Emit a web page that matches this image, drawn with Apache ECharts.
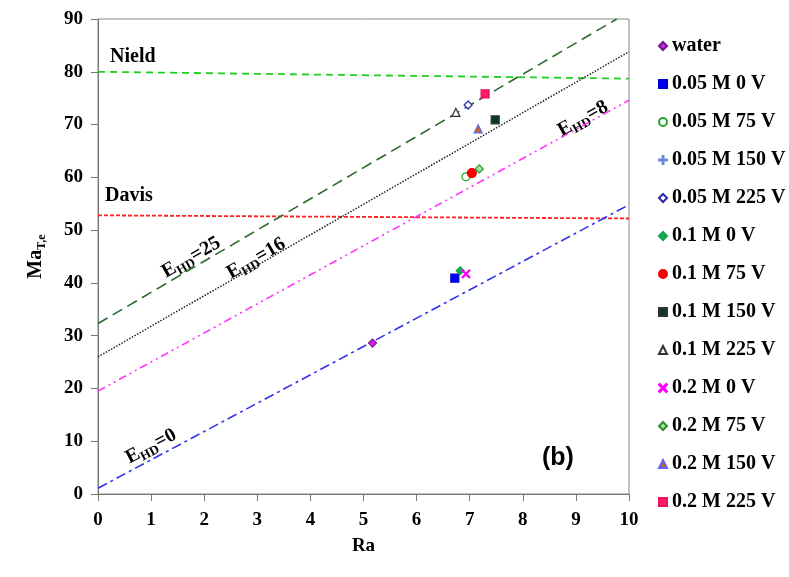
<!DOCTYPE html>
<html>
<head>
<meta charset="utf-8">
<script src="https://cdn.jsdelivr.net/npm/echarts@6/dist/echarts.min.js"></script>
<style>
  html, body { margin: 0; padding: 0; background: #fff; }
  #chart { width: 789px; height: 577px; }
</style>
</head>
<body>
<div id="chart"></div>
<script>
// x-axis ticks / y-axis ticks
var xTicks = [0, 1, 2, 3, 4, 5, 6, 7, 8, 9, 10]
var yTicks = [0, 10, 20, 30, 40, 50, 60, 70, 80, 90]

// theory lines (Ra, Ma)
var nieldLine = [[0, 80], [10, 78.7]]
var davisLine = [[0, 52.8], [10, 52.2]]
var ehd25Line = [[0, 32.3], [9.77, 90]]
var ehd16Line = [[0, 26], [10, 83.8]]
var ehd8Line = [[0, 19.5], [10, 74.6]]
var ehd0Line = [[0, 1.1], [10, 54.8]]

// measured points
var water = [[5.17, 28.6]]
var m005v0 = [[6.72, 40.9]]
var m005v75 = [[6.93, 60.1]]
var m005v150 = []
var m005v225 = [[6.97, 73.7]]
var m01v0 = [[6.82, 42.3]]
var m01v75 = [[7.04, 60.8]]
var m01v150 = [[7.48, 70.9]]
var m01v225 = [[6.74, 72.3]]
var m02v0 = [[6.93, 41.7]]
var m02v75 = [[7.18, 61.6]]
var m02v150 = [[7.16, 69.2]]
var m02v225 = [[7.29, 75.8]]

var plusPath = 'path://M0,4.4 L10,4.4 L10,5.6 L0,5.6 Z M4.4,0 L5.6,0 L5.6,10 L4.4,10 Z'
var crossPath = 'path://M1,0 L5,4 L9,0 L10,1 L6,5 L10,9 L9,10 L5,6 L1,10 L0,9 L4,5 L0,1 Z'

function pts (name, data, symbol, fill, border, size) {
  return {
    name: name,
    type: 'scatter',
    data: data,
    symbol: symbol,
    symbolSize: size || 8,
    itemStyle: { color: fill, borderColor: border, borderWidth: 1.2, opacity: 1 },
    z: 5
  }
}

function line (data, color, dash, width) {
  return {
    type: 'line',
    data: data,
    showSymbol: false,
    silent: true,
    lineStyle: { color: color, type: dash, width: width || 1.5 },
    z: 3
  }
}

var serif = '"Liberation Serif", "Times New Roman", serif'

function lbl (main, sub, rest, x, y, deg) {
  return {
    type: 'text',
    left: x,
    top: y,
    rotation: deg * Math.PI / 180,
    style: {
      text: '{e|' + main + '}{s|' + sub + '}{e|' + rest + '}',
      rich: {
        e: { fontFamily: serif, fontWeight: 'bold', fontSize: 20, lineHeight: 22, verticalAlign: 'top', fill: '#000' },
        s: { fontFamily: serif, fontWeight: 'bold', fontSize: 13, lineHeight: 14, verticalAlign: 'bottom', padding: [10, 0, 0, 0], fill: '#000' }
      }
    }
  }
}

var chart = echarts.init(document.getElementById('chart'))
var option = {
  backgroundColor: '#fff',
  animation: false,
  grid: {
    left: 98, right: 160, top: 19, bottom: 83,
    show: true, borderColor: '#888', borderWidth: 1
  },
  legend: {
    orient: 'vertical',
    left: 653,
    top: 31,
    itemWidth: 8,
    itemHeight: 8,
    itemGap: 18,
    textStyle: { fontFamily: serif, fontWeight: 'bold', fontSize: 20, color: '#000' },
    data: ['water', '0.05 M 0 V', '0.05 M 75 V', '0.05 M 150 V', '0.05 M 225 V',
      '0.1 M 0 V', '0.1 M 75 V', '0.1 M 150 V', '0.1 M 225 V',
      '0.2 M 0 V', '0.2 M 75 V', '0.2 M 150 V', '0.2 M 225 V']
  },
  xAxis: {
    type: 'value',
    min: xTicks[0], max: xTicks[xTicks.length - 1], interval: 1,
    name: 'Ra',
    nameLocation: 'middle',
    nameGap: 43,
    nameTextStyle: { fontFamily: serif, fontWeight: 'bold', fontSize: 19, color: '#000' },
    axisLine: { lineStyle: { color: '#777' } },
    axisTick: { length: 7, lineStyle: { color: '#777' } },
    axisLabel: { fontFamily: serif, fontWeight: 'bold', fontSize: 19, color: '#000', margin: 17 },
    splitLine: { show: false }
  },
  yAxis: {
    type: 'value',
    min: yTicks[0], max: yTicks[yTicks.length - 1], interval: 10,
    name: '{m|Ma}{s|T,e}',
    nameLocation: 'middle',
    nameGap: 50,
    nameTextStyle: {
      rich: {
        m: { fontFamily: serif, fontWeight: 'bold', fontSize: 20, lineHeight: 22, verticalAlign: 'top', color: '#000' },
        s: { fontFamily: serif, fontWeight: 'bold', fontSize: 12, lineHeight: 13, verticalAlign: 'bottom', padding: [10, 0, 0, 0], color: '#000' }
      }
    },
    axisLine: { show: true, lineStyle: { color: '#777' } },
    axisTick: { show: true, length: 7, lineStyle: { color: '#777' } },
    axisLabel: { fontFamily: serif, fontWeight: 'bold', fontSize: 19, color: '#000', margin: 15 },
    splitLine: { show: false }
  },
  graphic: [
    { type: 'text', left: 110, top: 47, style: { text: 'Nield', fontFamily: serif, fontWeight: 'bold', fontSize: 20, fill: '#000' } },
    { type: 'text', left: 105, top: 186, style: { text: 'Davis', fontFamily: serif, fontWeight: 'bold', fontSize: 20, fill: '#000' } },
    lbl('E', 'HD', '=25', 158, 232, 30),
    lbl('E', 'HD', '=16', 223, 233, 30),
    lbl('E', 'HD', '=8', 554, 96, 29),
    lbl('E', 'HD', '=0', 122, 424, 28),
    { type: 'text', left: 542, top: 446, style: { text: '(b)', fontFamily: '"Liberation Sans", Arial, sans-serif', fontWeight: 'bold', fontSize: 25, fill: '#000' } }
  ],
  series: [
    line(nieldLine, '#22cc22', [7, 5], 1.8),
    line(davisLine, '#ff2020', [4, 2], 1.8),
    line(ehd25Line, '#2d6a2d', [11, 6], 1.6),
    line(ehd16Line, '#222', [1.5, 1.5], 1.5),
    line(ehd8Line, '#ff33ff', [8, 4, 2, 4, 2, 4], 1.6),
    line(ehd0Line, '#3333ee', [10, 4, 3, 4], 1.6),
    pts('water', water, 'diamond', '#e020e0', '#6a1a8a'),
    pts('0.05 M 0 V', m005v0, 'rect', '#0000ff', '#0000cc'),
    pts('0.05 M 75 V', m005v75, 'circle', '#fff', '#2ca02c'),
    pts('0.05 M 150 V', m005v150, plusPath, '#6a8ad8', '#6a8ad8'),
    pts('0.05 M 225 V', m005v225, 'diamond', '#fff', '#2828b0'),
    pts('0.1 M 0 V', m01v0, 'diamond', '#10b050', '#10a048'),
    pts('0.1 M 75 V', m01v75, 'circle', '#ff0000', '#ee0000', 9),
    pts('0.1 M 150 V', m01v150, 'rect', '#0d3a1a', '#333'),
    pts('0.1 M 225 V', m01v225, 'triangle', '#fff', '#333'),
    pts('0.2 M 0 V', m02v0, crossPath, '#ff00ff', '#ff00ff'),
    pts('0.2 M 75 V', m02v75, 'diamond', '#9be69b', '#2f8f2f'),
    pts('0.2 M 150 V', m02v150, 'triangle', '#c86414', '#6060ff'),
    pts('0.2 M 225 V', m02v225, 'rect', '#ff1a6a', '#ee1060')
  ]
}
chart.setOption(option)
</script>
</body>
</html>
